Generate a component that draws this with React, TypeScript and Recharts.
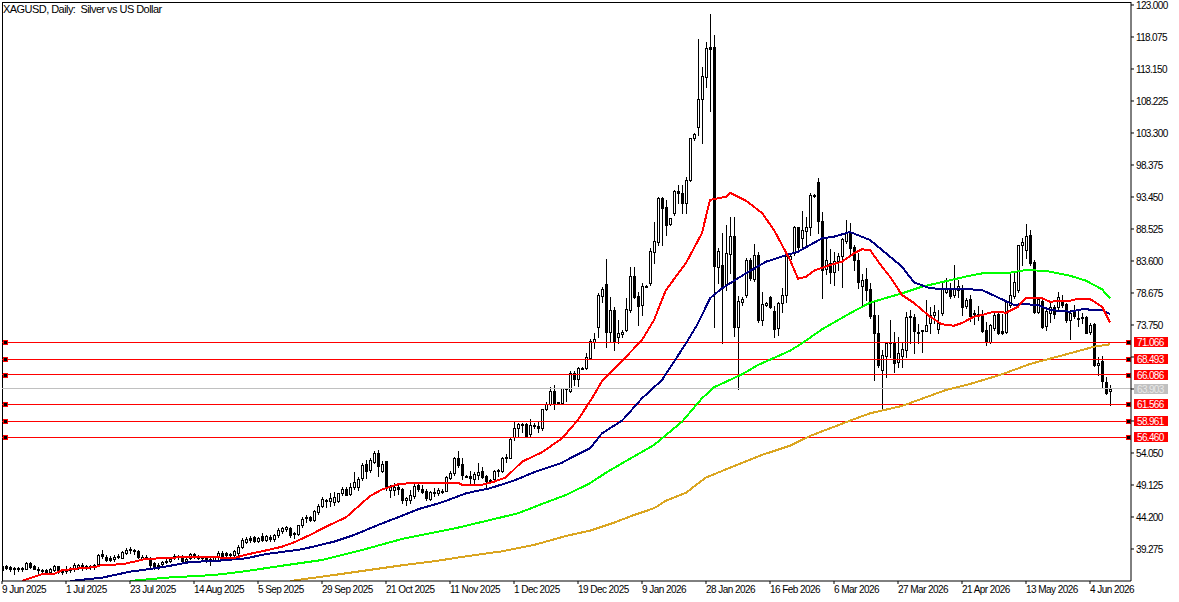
import { Bar, ComposedChart, Line, ReferenceLine, XAxis, YAxis } from "recharts";

const dateLabels = [
  "9 Jun 2025", "1 Jul 2025", "23 Jul 2025", "14 Aug 2025", "5 Sep 2025", "29 Sep 2025",
  "21 Oct 2025", "11 Nov 2025", "1 Dec 2025", "19 Dec 2025", "9 Jan 2026", "28 Jan 2026",
  "16 Feb 2026", "6 Mar 2026", "27 Mar 2026", "21 Apr 2026", "13 May 2026", "4 Jun 2026",
];
const dateTicks = [0, 16, 32, 48, 64, 80, 96, 112, 128, 144, 160, 176, 192, 208, 224, 240, 256, 272];

const priceTicks = [
  123, 118.075, 113.15, 108.225, 103.3, 98.375, 93.45, 88.525, 83.6, 78.675, 73.75, 68.825,
  63.9, 58.975, 54.05, 49.125, 44.2, 39.275,
];
// these three sit under the level tags
const coveredTicks = [68.825, 63.9, 58.975];

const opens = [
  36.71, 36.71, 36.45, 36.35, 36.35, 36.25, 36.25, 37.12, 36.66, 36.25,
  36.04, 36.04, 35.74, 36.04, 36.66, 36.04, 35.94, 36.04, 36.35, 36.5,
  36.86, 36.66, 36.5, 36.5, 36.92, 38.51, 38.05, 37.94, 37.69, 38.25,
  37.94, 38.66, 39.28, 39.17, 38.97, 37.79, 37.94, 37.58, 37.17, 36.86,
  36.92, 37.38, 37.48, 37.99, 38.2, 38.2, 37.48, 37.89, 38.51, 38.05,
  37.99, 37.99, 37.58, 37.58, 37.99, 38.71, 38.61, 38.51, 38.4, 38.71,
  39.64, 40.4, 41.02, 41.07, 40.56, 41.28, 40.71, 41.17, 40.82, 41.38,
  42.1, 42.3, 42.51, 41.53, 41.58, 42.97, 43.99, 44.15, 43.69, 44.97,
  45.94, 46.71, 46.61, 46.56, 46.66, 47.84, 48.51, 47.69, 48.87, 48.77,
  50.15, 52.36, 51.43, 52.72, 54.1, 51.33, 52.82, 48.36, 48.36, 48.87,
  48.46, 46.82, 46.82, 47.48, 49.13, 48.46, 48.15, 46.97, 48.1, 47.95,
  48.25, 48.25, 50.25, 51.02, 53.23, 52.31, 50.56, 50.56, 50.0, 50.61,
  51.23, 50.51, 49.9, 50.1, 51.23, 51.28, 53.28, 53.33, 56.46, 57.85,
  58.36, 58.46, 56.97, 58.36, 58.26, 57.95, 60.77, 61.59, 63.54, 61.9,
  61.69, 64.0, 63.54, 66.41, 65.39, 67.03, 67.18, 68.73, 71.19, 73.4,
  78.22, 80.01, 72.73, 76.06, 71.96, 72.32, 72.98, 76.06, 81.3, 78.22,
  76.78, 79.81, 80.17, 85.04, 86.53, 93.25, 91.97, 89.25, 91.04, 94.38,
  94.12, 92.58, 96.02, 102.48, 104.17, 108.48, 111.97, 116.49, 116.49, 82.63,
  82.99, 80.06, 84.68, 87.45, 73.5, 77.29, 78.37, 83.76, 80.78, 84.53,
  74.52, 76.88, 78.12, 75.96, 73.24, 77.19, 78.37, 83.86, 84.78, 88.79,
  87.14, 88.27, 88.79, 93.61, 95.71, 89.81, 82.32, 83.25, 81.96, 83.66,
  84.37, 86.73, 88.12, 85.71, 83.76, 79.81, 80.83, 79.24, 75.29, 72.58,
  66.83, 68.98, 71.04, 71.19, 68.11, 68.98, 69.91, 75.14, 75.04, 72.73,
  72.78, 72.88, 74.01, 75.29, 73.19, 75.55, 78.88, 79.14, 78.37, 79.14,
  79.4, 76.68, 77.71, 75.55, 75.24, 75.14, 72.98, 71.13, 73.24, 75.44,
  72.78, 72.73, 76.83, 78.21, 79.14, 86.11, 85.29, 87.6, 83.4, 75.7,
  77.5, 73.65, 75.55, 76.57, 76.57, 77.29, 76.93, 74.52, 75.7, 74.88,
  74.78, 75.03, 72.73, 73.91, 67.65, 68.16, 64.98, 63.54,
];

const highs = [
  36.81, 36.81, 36.66, 36.56, 36.56, 36.56, 37.27, 37.27, 36.81, 36.45,
  36.25, 36.25, 36.3, 36.81, 36.66, 36.15, 36.66, 36.56, 37.07, 36.97,
  37.17, 36.86, 36.86, 36.97, 38.51, 39.12, 38.35, 38.2, 38.3, 38.51,
  38.92, 39.38, 39.53, 39.33, 39.12, 38.3, 38.3, 38.1, 37.33, 37.17,
  37.48, 37.69, 37.99, 38.51, 38.4, 38.3, 37.99, 38.61, 38.71, 38.3,
  38.2, 38.2, 37.89, 38.2, 39.02, 38.92, 38.81, 38.71, 39.12, 39.89,
  40.92, 41.07, 41.28, 41.28, 41.17, 41.69, 41.43, 41.38, 41.58, 42.46,
  42.71, 42.87, 42.71, 41.89, 43.02, 44.15, 44.51, 44.35, 45.28, 46.2,
  47.23, 47.02, 47.84, 48.1, 47.95, 48.77, 48.77, 49.38, 51.18, 50.41,
  52.46, 52.97, 53.23, 54.41, 54.51, 52.87, 52.82, 49.13, 49.38, 49.28,
  48.66, 47.33, 48.36, 49.28, 49.28, 49.13, 48.46, 48.15, 48.61, 48.61,
  48.46, 50.51, 51.28, 53.49, 54.31, 53.23, 50.61, 51.33, 51.18, 52.46,
  51.95, 50.72, 50.0, 51.43, 51.54, 53.38, 53.9, 56.46, 58.87, 58.72,
  58.72, 58.62, 59.23, 58.62, 59.03, 60.77, 61.95, 64.26, 64.52, 61.95,
  64.11, 64.11, 66.72, 66.72, 67.34, 67.23, 69.39, 71.55, 72.47, 78.63,
  79.65, 83.86, 78.12, 76.58, 74.52, 72.98, 77.86, 82.73, 82.63, 78.88,
  80.17, 79.86, 85.55, 89.66, 93.51, 93.51, 92.99, 90.27, 94.53, 95.3,
  95.3, 96.48, 102.48, 103.25, 117.72, 113.51, 117.31, 121.62, 118.38, 85.55,
  87.86, 89.15, 90.43, 90.32, 78.22, 78.01, 84.01, 84.01, 86.22, 85.04,
  78.88, 77.35, 78.22, 76.68, 77.35, 79.4, 84.53, 84.78, 88.99, 88.89,
  91.25, 90.43, 94.02, 93.92, 96.33, 91.2, 87.09, 85.4, 85.04, 84.78,
  87.09, 89.91, 89.5, 86.07, 84.78, 81.6, 82.48, 80.17, 77.6, 75.29,
  69.91, 71.04, 74.52, 72.73, 71.96, 71.19, 75.81, 76.06, 75.45, 73.91,
  72.99, 77.6, 76.58, 76.83, 76.06, 80.17, 80.94, 80.17, 82.99, 80.68,
  79.91, 77.86, 78.37, 76.06, 76.68, 76.06, 74.26, 73.85, 75.55, 75.8,
  75.44, 77.6, 81.96, 81.7, 86.06, 87.09, 89.3, 88.37, 83.75, 78.11,
  77.86, 76.57, 77.09, 76.83, 78.78, 78.37, 77.09, 76.06, 76.83, 76.06,
  75.55, 75.14, 74.01, 74.11, 68.78, 68.98, 65.7, 64.52,
];

const lows = [
  35.94, 36.15, 35.94, 35.38, 35.94, 35.94, 36.15, 36.35, 36.15, 35.43,
  35.63, 35.53, 35.53, 35.84, 35.63, 35.43, 35.53, 35.79, 35.94, 36.15,
  36.04, 36.25, 36.25, 36.25, 36.81, 37.89, 37.38, 37.38, 37.48, 37.84,
  37.89, 38.51, 38.61, 38.51, 37.84, 37.58, 37.69, 36.56, 36.15, 36.25,
  36.66, 37.07, 37.27, 37.69, 37.69, 37.38, 37.27, 37.69, 37.84, 37.69,
  37.69, 37.27, 36.86, 37.38, 37.79, 37.79, 37.99, 37.89, 38.1, 38.3,
  39.43, 40.15, 40.4, 40.3, 40.35, 40.46, 40.51, 40.46, 40.56, 41.17,
  41.79, 41.99, 41.07, 40.92, 41.43, 42.71, 43.43, 43.53, 43.53, 44.66,
  45.69, 45.69, 45.89, 46.05, 46.51, 47.54, 47.54, 47.54, 48.56, 48.36,
  49.9, 50.25, 51.18, 52.46, 50.51, 51.13, 48.36, 47.33, 47.59, 47.74,
  46.3, 46.05, 46.3, 47.07, 48.25, 47.84, 46.82, 46.82, 47.43, 47.64,
  47.84, 48.15, 50.1, 50.72, 51.95, 50.0, 50.36, 49.48, 49.38, 50.0,
  50.15, 48.61, 49.38, 49.9, 50.51, 51.18, 52.72, 53.23, 56.05, 56.56,
  57.33, 56.46, 56.67, 57.85, 57.33, 57.59, 60.67, 61.39, 60.77, 61.75,
  61.59, 62.1, 63.44, 64.52, 64.41, 66.93, 67.03, 68.63, 70.16, 71.96,
  77.35, 70.42, 71.19, 69.91, 70.93, 71.96, 72.83, 75.81, 77.86, 73.75,
  75.29, 79.65, 79.91, 83.25, 86.07, 86.07, 87.61, 89.14, 90.73, 92.48,
  90.94, 90.94, 95.91, 102.22, 102.99, 101.71, 110.43, 106.74, 73.5, 80.17,
  71.03, 79.14, 81.71, 72.06, 63.85, 76.83, 78.12, 80.68, 80.58, 74.27,
  73.75, 76.68, 76.37, 71.86, 72.22, 75.81, 77.35, 83.76, 84.48, 85.04,
  85.71, 85.91, 87.61, 93.51, 87.86, 77.86, 81.6, 80.17, 79.91, 82.22,
  79.55, 86.32, 84.53, 82.22, 79.4, 76.83, 77.6, 74.78, 65.29, 67.34,
  60.78, 65.8, 68.88, 66.57, 67.34, 67.34, 68.88, 70.93, 69.5, 70.93,
  69.65, 72.78, 72.47, 74.01, 72.47, 75.29, 78.63, 77.86, 78.12, 78.12,
  75.29, 76.32, 74.42, 73.91, 74.53, 72.73, 70.67, 71.03, 72.98, 72.37,
  72.37, 72.47, 76.57, 77.86, 78.88, 82.99, 84.01, 82.99, 75.55, 75.55,
  73.24, 72.98, 74.26, 74.78, 76.06, 76.57, 74.26, 71.6, 74.78, 73.65,
  74.11, 72.47, 72.37, 67.44, 66.06, 64.26, 63.13, 61.44,
];

const closes = [
  36.04, 36.3, 36.15, 36.15, 36.25, 36.35, 37.12, 36.56, 36.25, 36.04,
  35.94, 35.79, 36.15, 36.66, 35.84, 35.74, 36.15, 36.35, 36.76, 36.81,
  36.56, 36.5, 36.66, 36.81, 38.3, 38.2, 37.58, 37.58, 38.1, 37.99,
  38.76, 39.17, 39.17, 39.07, 37.99, 38.1, 38.05, 36.81, 36.45, 36.56,
  37.33, 37.48, 37.79, 38.2, 37.99, 37.48, 37.79, 38.51, 38.05, 37.89,
  37.89, 37.48, 37.79, 37.99, 38.71, 38.2, 38.4, 38.3, 38.92, 39.53,
  40.61, 40.81, 40.71, 40.51, 40.92, 40.71, 41.23, 40.76, 41.43, 42.2,
  42.56, 42.71, 41.48, 41.69, 42.92, 43.94, 44.15, 43.74, 45.07, 45.94,
  46.97, 46.82, 47.12, 47.28, 47.84, 48.51, 47.64, 48.77, 49.59, 50.05,
  52.15, 51.28, 52.97, 54.1, 52.05, 52.36, 48.61, 48.77, 48.87, 48.46,
  46.82, 47.07, 47.59, 48.97, 48.46, 48.05, 47.07, 48.05, 47.84, 48.3,
  48.15, 50.41, 51.02, 53.23, 52.2, 50.61, 50.41, 50.15, 50.77, 51.18,
  50.41, 49.79, 49.79, 51.33, 51.43, 53.23, 53.38, 56.26, 57.85, 58.51,
  58.46, 56.67, 58.36, 58.21, 57.95, 60.77, 61.59, 63.54, 61.8, 61.8,
  64.0, 63.85, 66.41, 65.39, 67.08, 67.13, 68.77, 71.34, 71.55, 78.37,
  79.24, 72.73, 76.06, 71.19, 72.47, 72.73, 76.17, 81.3, 78.12, 76.68,
  79.76, 79.7, 85.14, 86.68, 93.35, 91.81, 89.14, 90.17, 94.33, 94.12,
  92.48, 96.02, 102.48, 103.1, 108.48, 112.02, 116.33, 116.28, 82.83, 85.14,
  79.76, 84.78, 87.45, 73.5, 77.45, 77.7, 83.76, 80.94, 84.48, 74.52,
  76.99, 77.19, 76.47, 73.19, 77.19, 78.37, 84.37, 84.37, 88.79, 85.71,
  88.38, 88.79, 93.71, 93.76, 89.81, 82.22, 83.76, 81.96, 83.66, 84.37,
  86.94, 88.12, 85.55, 83.76, 80.42, 80.68, 79.14, 75.14, 72.58, 67.6,
  69.14, 71.04, 71.19, 67.96, 69.5, 70.01, 75.04, 74.94, 72.88, 72.58,
  72.99, 73.76, 75.29, 75.81, 74.11, 79.24, 79.24, 78.22, 79.4, 79.76,
  76.47, 77.6, 75.14, 75.45, 75.45, 72.88, 71.19, 73.75, 75.34, 72.57,
  72.57, 77.34, 78.32, 80.42, 86.01, 86.47, 87.5, 83.34, 75.8, 77.7,
  73.5, 75.91, 76.57, 75.39, 78.01, 76.83, 74.52, 75.65, 75.14, 74.68,
  74.93, 72.57, 73.8, 67.6, 67.95, 65.18, 63.34, 63.9,
];

const redBars = [
  5, 8, 10, 13, 15, 20, 23, 25, 30, 33, 36, 41, 45, 51, 58, 61, 65, 70, 73, 77, 81, 86, 89, 92, 95, 99,
  103, 114, 115, 120, 123, 126, 130, 135, 140, 144, 148, 150, 155, 160, 163, 166, 171, 175, 177, 181,
  182, 186, 190, 193, 197, 199, 201, 203, 207, 210, 213, 215, 217, 220, 222, 225, 228, 232, 235, 238,
  240, 243, 245, 248, 251, 254, 256, 260, 262, 267, 269, 272, 275, 277,
];
const redPrices = [
  34.35, 35.01, 35.38, 35.43, 36.0, 36.35, 36.46, 36.81, 36.92, 37.32, 37.78, 37.84, 38.04, 38.04, 37.89,
  38.4, 38.92, 39.63, 40.3, 41.43, 42.71, 44.15, 45.78, 47.43, 48.43, 49.23, 49.48, 49.48, 49.17, 49.17,
  49.63, 50.31, 52.71, 54.16, 56.31, 59.13, 62.98, 65.13, 68.21, 71.44, 74.52, 79.14, 83.29, 87.91, 92.99,
  93.5, 94.11, 92.88, 90.99, 88.37, 83.75, 80.88, 81.18, 82.11, 82.98, 83.49, 84.78, 85.4, 85.29, 82.72,
  81.18, 78.37, 77.14, 75.03, 73.86, 73.64, 74.06, 75.03, 75.29, 75.8, 75.64, 76.57, 77.95, 77.86, 77.34,
  77.49, 77.8, 77.75, 76.57, 74.17,
];

const blueBars = [
  17, 25, 32, 40, 47, 54, 61, 66, 75, 83, 88, 94, 100, 104, 110, 116, 122, 128, 133, 140, 142, 147, 150,
  155, 160, 165, 171, 174, 177, 180, 186, 191, 197, 199, 205, 208, 212, 217, 221, 225, 228, 232, 238, 242,
  245, 250, 253, 255, 259, 262, 267, 270, 275, 277,
];
const bluePrices = [
  34.35, 34.86, 35.78, 36.46, 37.27, 37.47, 37.84, 38.5, 39.23, 40.4, 41.43, 42.97, 44.4, 45.39, 46.46,
  47.85, 48.63, 49.8, 51.08, 52.55, 53.24, 54.77, 57.08, 59.02, 62.47, 65.28, 70.93, 74.01, 77.86, 79.4,
  81.71, 83.49, 84.68, 85.03, 87.09, 87.34, 88.06, 86.83, 84.78, 82.72, 80.32, 79.4, 79.24, 79.24, 79.14,
  77.7, 76.83, 76.98, 76.83, 76.06, 75.8, 76.17, 76.06, 75.44,
];

const greenBars = [
  32, 41, 53, 60, 70, 80, 90, 100, 108, 114, 121, 129, 135, 141, 147, 151, 156, 163, 170, 175, 178, 185,
  189, 197, 200, 205, 212, 217, 225, 230, 238, 242, 246, 251, 256, 261, 267, 271, 275, 277,
];
const greenPrices = [
  34.35, 34.86, 35.27, 35.78, 36.7, 37.58, 39.12, 40.82, 41.8, 42.56, 43.59, 44.77, 46.2, 47.59, 49.39,
  51.02, 52.82, 55.28, 58.87, 62.47, 64.16, 66.16, 67.59, 69.79, 70.93, 73.09, 75.55, 77.18, 78.63, 79.64,
  80.78, 81.34, 81.8, 81.71, 82.22, 82.06, 81.34, 80.57, 79.24, 77.86,
];

const goldBars = [
  72, 83, 100, 108, 116, 125, 133, 141, 147, 153, 158, 163, 166, 171, 176, 182, 190, 197, 202, 212, 217,
  225, 236, 242, 250, 257, 267, 273, 277,
];
const goldPrices = [
  34.35, 35.27, 36.77, 37.38, 38.15, 38.92, 39.9, 41.28, 42.1, 43.33, 44.51, 45.54, 46.71, 47.94, 50.28,
  51.78, 53.75, 55.18, 56.67, 59.02, 60.16, 61.29, 63.75, 64.67, 66.16, 67.75, 69.39, 70.41, 70.78,
];

const redLevels = [71.066, 68.493, 66.086, 61.566, 58.961, 56.46];
const lastClose = 63.903;

const column = (bars: number[], prices: number[]) =>
  Object.fromEntries(bars.map((b, k) => [b, prices[k]]));

const redByBar = column(redBars, redPrices);
const blueByBar = column(blueBars, bluePrices);
const greenByBar = column(greenBars, greenPrices);
const goldByBar = column(goldBars, goldPrices);

const chartData = opens.map((open, i) => ({
  index: i,
  open,
  high: highs[i],
  low: lows[i],
  close: closes[i],
  range: [lows[i], highs[i]],
  red: redByBar[i],
  blue: blueByBar[i],
  green: greenByBar[i],
  gold: goldByBar[i],
}));

const AXIS_FONT = "'Liberation Sans', sans-serif";

const Candle = (props: any) => {
  const { x, y, width, height, payload } = props;
  const { open, close, high, low } = payload;
  const perUnit = height / (high - low || 1);
  const yOf = (v: number) => Math.round(y + (high - v) * perUnit);
  const px = Math.round(x + width / 2) + 0.5;
  const top = yOf(Math.max(open, close));
  const bottom = yOf(Math.min(open, close));
  const bull = close >= open;
  return (
    <g shapeRendering="crispEdges">
      <line x1={px} x2={px} y1={yOf(high)} y2={yOf(low) + 1} stroke="#000" />
      <rect
        x={px - 1}
        y={top + 0.5}
        width={2}
        height={Math.max(bottom - top, 1)}
        fill={bull ? "#fff" : "#000"}
        stroke="#000"
      />
    </g>
  );
};

const PriceTick = ({ x, y, payload }: any) =>
  coveredTicks.includes(payload.value) ? (
    <g />
  ) : (
    <text x={x + 2} y={y + 4} fontFamily={AXIS_FONT} fontSize={10} letterSpacing={-0.65} fill="#000">
      {payload.value.toFixed(3)}
    </text>
  );

const DateTick = ({ x, y, payload }: any) => (
  <text x={x} y={y + 9} fontFamily={AXIS_FONT} fontSize={10} letterSpacing={-0.55} fill="#000">
    {dateLabels[dateTicks.indexOf(payload.value)]}
  </text>
);

const LevelTag = ({ viewBox, value, color, textColor, handles }: any) => {
  const { x, y, width } = viewBox;
  const row = Math.round(y);
  return (
    <g shapeRendering="crispEdges">
      {handles && <rect x={x + 1.5} y={row - 2} width={4} height={4} fill="#000" stroke={color} />}
      {handles && <rect x={x + width - 4.5} y={row - 2} width={4} height={4} fill="#000" stroke={color} />}
      <rect x={x + width + 3} y={row - 5} width={34} height={10} fill={color} />
      <text
        x={x + width + 6}
        y={row + 4}
        fontFamily={AXIS_FONT}
        fontSize={10}
        letterSpacing={-0.65}
        fill={textColor}
        shapeRendering="auto"
      >
        {value.toFixed(3)}
      </text>
    </g>
  );
};

const App = () => {
  return (
    <div style={{ position: "absolute", left: 0, top: 0, width: 1179, height: 602, background: "#fff" }}>
      <ComposedChart
        width={1179}
        height={602}
        data={chartData}
        margin={{ top: 2, left: 2, right: 0, bottom: 0 }}
      >
        <XAxis
          dataKey="index"
          type="number"
          domain={[0, 282.25]}
          ticks={dateTicks}
          interval={0}
          height={21}
          tick={<DateTick />}
          tickSize={3}
          tickMargin={0}
          axisLine={{ stroke: "#000" }}
          tickLine={{ stroke: "#000" }}
          allowDataOverflow
        />
        <YAxis
          orientation="right"
          type="number"
          domain={[34.35, 123.46]}
          ticks={priceTicks}
          interval={0}
          width={48}
          tick={<PriceTick />}
          tickSize={3}
          tickMargin={0}
          axisLine={{ stroke: "#000" }}
          tickLine={{ stroke: "#000" }}
          allowDataOverflow
        />
        <ReferenceLine y={123.46} stroke="#000" shapeRendering="crispEdges" />
        <ReferenceLine x={0} stroke="#000" shapeRendering="crispEdges" />
        <ReferenceLine
          y={lastClose}
          stroke="#c0c0c0"
          shapeRendering="crispEdges"
          label={<LevelTag value={lastClose} color="#c0c0c0" textColor="#e8e8e8" />}
        />
        {redLevels.map((level) => (
          <ReferenceLine
            key={level}
            y={level}
            stroke="#ff0000"
            shapeRendering="crispEdges"
            label={<LevelTag value={level} color="#ff0000" textColor="#fff" handles />}
          />
        ))}
        <Bar dataKey="range" barSize={3} shape={<Candle />} isAnimationActive={false} />
        <Line dataKey="gold" stroke="#daa520" strokeWidth={2} dot={false} connectNulls shapeRendering="crispEdges" isAnimationActive={false} />
        <Line dataKey="green" stroke="#00ff00" strokeWidth={2} dot={false} connectNulls shapeRendering="crispEdges" isAnimationActive={false} />
        <Line dataKey="blue" stroke="#000080" strokeWidth={2} dot={false} connectNulls shapeRendering="crispEdges" isAnimationActive={false} />
        <Line dataKey="red" stroke="#ff0000" strokeWidth={2} dot={false} connectNulls shapeRendering="crispEdges" isAnimationActive={false} />
      </ComposedChart>
      <div
        style={{
          position: "absolute",
          left: 3,
          top: 3,
          fontFamily: AXIS_FONT,
          fontSize: 11,
          letterSpacing: -0.55,
          lineHeight: "12px",
          whiteSpace: "pre",
          color: "#000",
        }}
      >
        XAGUSD, Daily:  Silver vs US Dollar
      </div>
    </div>
  );
};

export default App;
